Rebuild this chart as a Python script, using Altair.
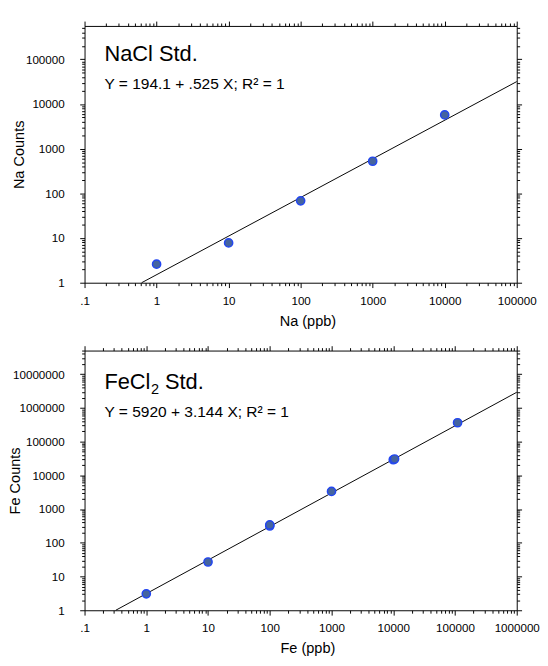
import altair as alt
import pandas as pd

FONT = "Liberation Sans"

# ---- data ----
na_x = [1, 10, 100, 1000, 10000]
na_y = [2.6, 7.8, 68, 525, 5700]
na_fit_x = [0.62, 100000]
na_fit_y = [1, 31800]

fe_x = [1, 10, 100, 100, 1000, 10000, 10500, 110000]
fe_y = [3.07, 27, 315, 340, 3330, 29000, 30500, 363000]
fe_fit_x = [0.32, 1000000]
fe_fit_y = [1, 2900000]

na_xdomain = [0.1, 100000]
na_ydomain = [1, 560000]
fe_xdomain = [0.1, 1000000]
fe_ydomain = [1, 50000000]


def log_ticks(lo_exp, hi_exp, extra):
    vals = [m * 10 ** e for e in range(lo_exp, hi_exp) for m in range(1, 10)]
    return vals + extra


na_xticks = log_ticks(-1, 5, [100000])
na_yticks = log_ticks(0, 5, [100000, 200000, 300000, 400000, 500000])
fe_xticks = log_ticks(-1, 6, [1000000])
fe_yticks = log_ticks(0, 7, [10000000, 20000000, 30000000, 40000000,
                             50000000])

MAJOR = "abs(log(datum.value)/LN10 - round(log(datum.value)/LN10)) < 0.000001"
TS = {"condition": {"test": MAJOR, "value": 5}, "value": 3}
XLAB = f"({MAJOR}) ? (datum.value < 1 ? '.1' : format(datum.value, 'd')) : ''"
YLAB = f"({MAJOR}) ? format(datum.value, 'd') : ''"


def panel(px, py, fx, fy, xdom, ydom, xticks, yticks, xtitle, ytitle,
          w, h, ytitle_x, texts, spacer):
    xs = alt.Scale(type="log", domain=xdom, nice=False)
    ys = alt.Scale(type="log", domain=ydom, nice=False)
    common = dict(tickSize=TS, tickColor="black", tickWidth=1,
                  domainColor="black", domainWidth=1, grid=False,
                  labelOverlap=False)
    ax_b = alt.Axis(orient="bottom", values=xticks, labelExpr=XLAB,
                    labelFlush=False, labelFont=FONT, labelFontSize=12,
                    labelColor="black", labelPadding=8, title=xtitle,
                    titleFont=FONT, titleFontSize=15, titleFontWeight="normal",
                    titleColor="black", titlePadding=8, titleX=w / 2 + 7,
                    **common)
    ax_l = alt.Axis(orient="left", values=yticks, labelExpr=YLAB,
                    labelFont=FONT, labelFontSize=12, labelColor="black",
                    labelPadding=16, title=ytitle, titleFont=FONT,
                    titleFontSize=15, titleFontWeight="normal",
                    titleColor="black", titleX=ytitle_x, titleY=h / 2,
                    titleAngle=270, titleBaseline="middle", **common)
    ax_t = alt.Axis(orient="top", values=xticks, labels=False, title=None,
                    **common)
    ax_r = alt.Axis(orient="right", values=yticks, labels=False, title=None,
                    **common)

    fit = pd.DataFrame({"x": fx, "y": fy})
    pts = pd.DataFrame({"x": px, "y": py})

    line = alt.Chart(fit).mark_line(color="black", strokeWidth=1).encode(
        x=alt.X("x:Q", scale=xs, axis=ax_b),
        y=alt.Y("y:Q", scale=ys, axis=ax_l),
    )
    frame = alt.Chart(fit).mark_line(opacity=0).encode(
        x=alt.X("x:Q", scale=xs, axis=ax_t),
        y=alt.Y("y:Q", scale=ys, axis=ax_r),
    )
    dots = alt.Chart(pts).mark_point(
        shape="circle", filled=True, fill="#45649f", stroke="#2246f2",
        strokeWidth=1.5, size=72, opacity=1,
    ).encode(
        x=alt.X("x:Q", scale=xs, axis=None),
        y=alt.Y("y:Q", scale=ys, axis=None),
    )
    layers = [line, frame, dots]
    one = pd.DataFrame({"k": [0]})
    for txt, tx, ty, size in texts:
        layers.append(
            alt.Chart(one).mark_text(
                text=txt, font=FONT, fontSize=size, color="black",
                align="left", baseline="alphabetic",
            ).encode(x=alt.value(tx), y=alt.value(ty))
        )
    if spacer is not None:
        layers.append(
            alt.Chart(one).mark_rule(opacity=0).encode(x=alt.value(spacer))
        )
    return alt.layer(*layers).resolve_axis(
        x="independent", y="independent"
    ).properties(width=w, height=h)


top = panel(
    na_x, na_y, na_fit_x, na_fit_y, na_xdomain, na_ydomain,
    na_xticks, na_yticks, "Na (ppb)", "Na Counts", 446, 265, -68,
    [("NaCl Std.", 20.5, 36, 22.5),
     ("Y = 194.1 + .525 X; R² = 1", 20.5, 65, 16)],
    -79,
)
bottom = panel(
    fe_x, fe_y, fe_fit_x, fe_fit_y, fe_xdomain, fe_ydomain,
    fe_xticks, fe_yticks, "Fe (ppb)", "Fe Counts", 446, 268, -72,
    [("FeCl", 20.5, 39.5, 22.5), ("2", 68.5, 44.5, 15),
     ("Std.", 83, 39.5, 22.5),
     ("Y = 5920 + 3.144 X; R² = 1", 20.5, 69, 16)],
    None,
)

chart = alt.vconcat(top, bottom, spacing=17).properties(
    padding={"left": 0, "top": 2, "right": 0, "bottom": 0}
).configure_view(stroke=None)

chart.save("out.html", embed_options={"renderer": "svg", "actions": False})
